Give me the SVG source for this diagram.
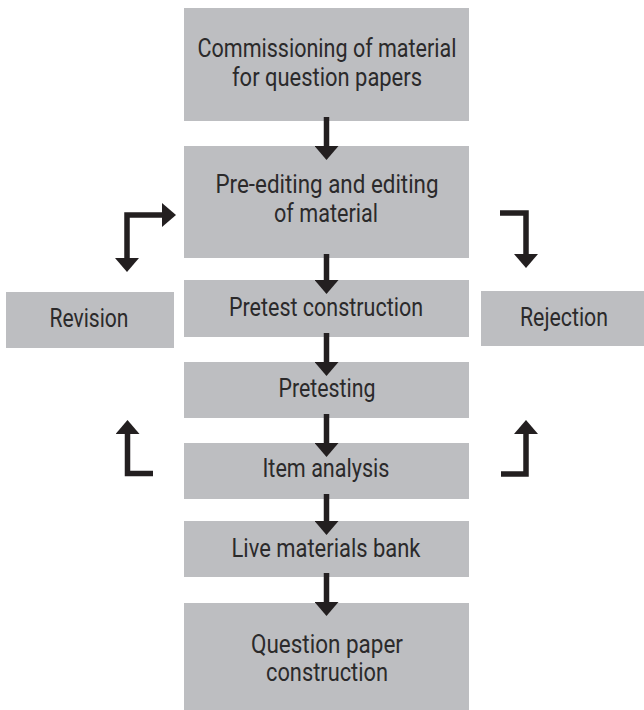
<svg xmlns="http://www.w3.org/2000/svg" width="644" height="710" viewBox="0 0 644 710">
  <style>
    .box { fill: #bdbec1; }
    .lbl { font-family: Roboto, "Liberation Sans", sans-serif; font-size: 26px; font-weight: 400; fill: #2b2a2b; text-anchor: middle; }
    .arw { fill: none; stroke: #231f20; stroke-width: 5.5; stroke-linejoin: miter; stroke-linecap: butt; }
  </style>
  <defs>
    <marker id="head" viewBox="0 0 14 24" refX="0" refY="12" markerWidth="14" markerHeight="24" markerUnits="userSpaceOnUse" orient="auto-start-reverse">
      <polygon points="0,0 14,12 0,24" fill="#231f20"/>
    </marker>
  </defs>

  <g id="n1">
    <rect class="box" x="184" y="8" width="285" height="113"/>
    <text class="lbl" x="327" y="57" textLength="259" lengthAdjust="spacingAndGlyphs">Commissioning of material</text>
    <text class="lbl" x="327" y="86" textLength="190" lengthAdjust="spacingAndGlyphs">for question papers</text>
  </g>
  <g id="n2">
    <rect class="box" x="184" y="146" width="285" height="112"/>
    <text class="lbl" x="327" y="193" textLength="223" lengthAdjust="spacingAndGlyphs">Pre-editing and editing</text>
    <text class="lbl" x="326" y="222" textLength="104" lengthAdjust="spacingAndGlyphs">of material</text>
  </g>
  <g id="n3">
    <rect class="box" x="184" y="280" width="285" height="57"/>
    <text class="lbl" x="326" y="316" textLength="194" lengthAdjust="spacingAndGlyphs">Pretest construction</text>
  </g>
  <g id="n4">
    <rect class="box" x="184" y="362" width="285" height="56"/>
    <text class="lbl" x="327" y="397" textLength="97" lengthAdjust="spacingAndGlyphs">Pretesting</text>
  </g>
  <g id="n5">
    <rect class="box" x="184" y="443" width="285" height="56"/>
    <text class="lbl" x="326" y="477" textLength="127" lengthAdjust="spacingAndGlyphs">Item analysis</text>
  </g>
  <g id="n6">
    <rect class="box" x="184" y="521" width="285" height="56"/>
    <text class="lbl" x="326" y="557" textLength="189" lengthAdjust="spacingAndGlyphs">Live materials bank</text>
  </g>
  <g id="n7">
    <rect class="box" x="184" y="603" width="285" height="107"/>
    <text class="lbl" x="327" y="653" textLength="152" lengthAdjust="spacingAndGlyphs">Question paper</text>
    <text class="lbl" x="327" y="681" textLength="122" lengthAdjust="spacingAndGlyphs">construction</text>
  </g>
  <g id="revision">
    <rect class="box" x="6" y="292" width="168" height="56"/>
    <text class="lbl" x="89" y="327" textLength="79" lengthAdjust="spacingAndGlyphs">Revision</text>
  </g>
  <g id="rejection">
    <rect class="box" x="481" y="291" width="163" height="55"/>
    <text class="lbl" x="564" y="326" textLength="88" lengthAdjust="spacingAndGlyphs">Rejection</text>
  </g>

  <g id="connectors">
    <path class="arw" d="M326.5,117 V146" marker-end="url(#head)"/>
    <path class="arw" d="M326.5,254 V280" marker-end="url(#head)"/>
    <path class="arw" d="M326.5,333 V362" marker-end="url(#head)"/>
    <path class="arw" d="M326.5,414 V443" marker-end="url(#head)"/>
    <path class="arw" d="M326.5,494 V521" marker-end="url(#head)"/>
    <path class="arw" d="M326.5,573 V602" marker-end="url(#head)"/>
    <path class="arw" d="M127,258 V215 H162" marker-start="url(#head)" marker-end="url(#head)"/>
    <path class="arw" d="M500,213 H526 V254" marker-end="url(#head)"/>
    <path class="arw" d="M501,474 H526 V434" marker-end="url(#head)"/>
    <path class="arw" d="M153,473.5 H127.5 V434" marker-end="url(#head)"/>
  </g>
</svg>
